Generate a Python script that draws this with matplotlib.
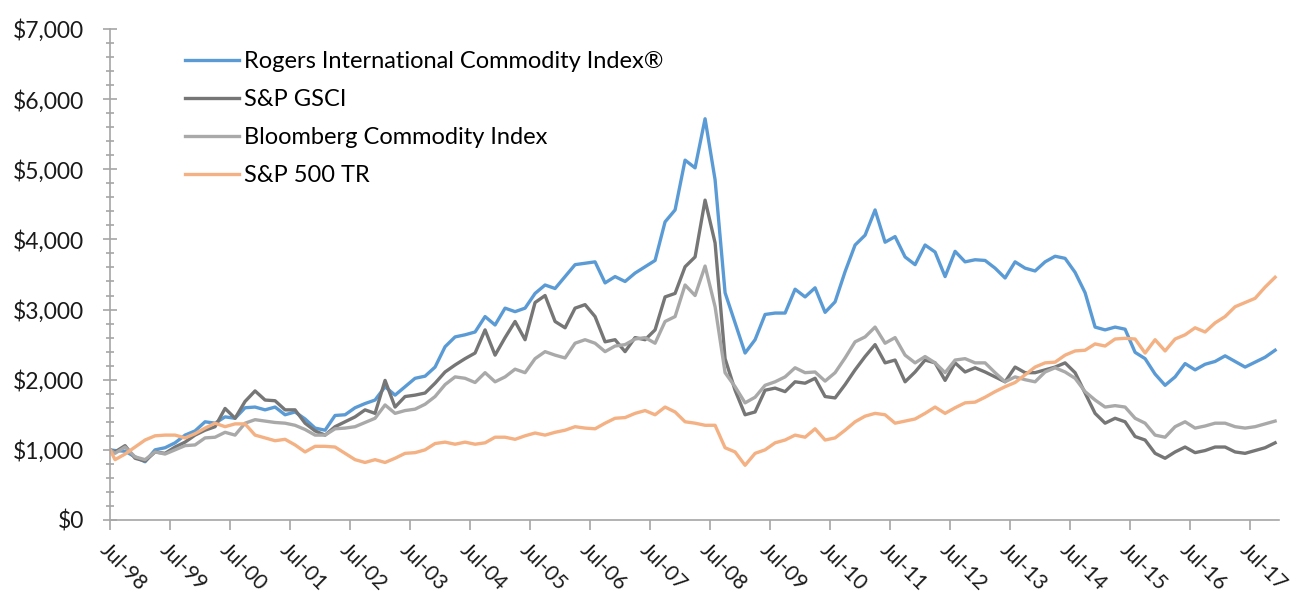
import matplotlib
matplotlib.use("Agg")
import matplotlib.pyplot as plt
from matplotlib.ticker import MultipleLocator, FuncFormatter

# month index counted from Jul-98 (readings at odd months)
months = [0] + list(range(1, 234, 2))

rogers = [1000, 990, 980, 900, 830, 1000, 1030, 1100, 1210, 1270, 1400, 1380, 1470,
          1450, 1600, 1610, 1570, 1610, 1500, 1540, 1440, 1310, 1280, 1490, 1500,
          1600, 1660, 1710, 1900, 1780, 1900, 2020, 2050, 2180, 2470, 2610, 2640,
          2680, 2900, 2780, 3020, 2970, 3020, 3230, 3350, 3300, 3470, 3640, 3660,
          3680, 3380, 3470, 3400, 3520, 3610, 3700, 4250, 4420, 5130, 5020, 5720,
          4850, 3240, 2810, 2380, 2570, 2930, 2950, 2950, 3290, 3180, 3310, 2960,
          3110, 3540, 3920, 4060, 4420, 3960, 4040, 3750, 3640, 3920, 3820, 3470,
          3830, 3680, 3710, 3700, 3590, 3450, 3680, 3590, 3550, 3680, 3760, 3730,
          3530, 3240, 2750, 2710, 2750, 2720, 2390, 2300, 2080, 1920, 2040, 2230,
          2140, 2220, 2260, 2340, 2260, 2180, 2250, 2320, 2420]

gsci = [1000, 970, 1060, 880, 840, 970, 950, 1040, 1110, 1210, 1280, 1330, 1590,
        1450, 1690, 1840, 1710, 1700, 1570, 1570, 1380, 1270, 1210, 1330, 1400,
        1470, 1570, 1520, 1990, 1610, 1760, 1780, 1810, 1950, 2110, 2210, 2300,
        2380, 2710, 2350, 2600, 2830, 2570, 3100, 3200, 2830, 2740, 3020, 3070,
        2900, 2540, 2570, 2400, 2600, 2570, 2710, 3180, 3230, 3610, 3750, 4560,
        3950, 2300, 1850, 1500, 1540, 1850, 1880, 1830, 1970, 1950, 2020, 1760,
        1740, 1930, 2140, 2330, 2500, 2240, 2280, 1970, 2110, 2280, 2240, 1990,
        2240, 2110, 2170, 2110, 2040, 1970, 2180, 2100, 2100, 2140, 2180, 2240,
        2100, 1810, 1520, 1380, 1450, 1400, 1190, 1140, 950, 880, 970, 1040,
        960, 990, 1040, 1040, 970, 950, 990, 1030, 1100]

bloomberg = [1000, 950, 1040, 900, 860, 970, 940, 1000, 1060, 1070, 1170, 1180, 1250,
             1210, 1380, 1430, 1410, 1390, 1380, 1350, 1290, 1210, 1210, 1300, 1310,
             1330, 1390, 1450, 1640, 1520, 1560, 1580, 1650, 1760, 1930, 2040, 2020,
             1960, 2100, 1970, 2040, 2150, 2100, 2300, 2400, 2350, 2310, 2520, 2570,
             2520, 2400, 2480, 2500, 2580, 2600, 2520, 2830, 2900, 3350, 3200, 3620,
             3040, 2100, 1900, 1670, 1750, 1920, 1970, 2040, 2170, 2100, 2110, 1980,
             2100, 2310, 2540, 2610, 2750, 2520, 2600, 2350, 2240, 2330, 2240, 2100,
             2280, 2300, 2240, 2240, 2100, 1970, 2040, 2000, 1970, 2110, 2170, 2110,
             2020, 1830, 1710, 1610, 1630, 1610, 1450, 1380, 1210, 1180, 1330, 1400,
             1310, 1340, 1380, 1380, 1330, 1310, 1330, 1370, 1410]

sp500 = [1000, 860, 940, 1040, 1140, 1200, 1210, 1210, 1170, 1230, 1310, 1380, 1330,
         1370, 1370, 1210, 1170, 1130, 1150, 1070, 970, 1050, 1050, 1040, 950,
         860, 820, 860, 820, 880, 950, 960, 1000, 1090, 1110, 1080, 1110,
         1080, 1100, 1180, 1180, 1150, 1200, 1240, 1210, 1250, 1280, 1330, 1310,
         1300, 1380, 1450, 1460, 1520, 1560, 1500, 1610, 1540, 1400, 1380, 1350,
         1350, 1030, 970, 780, 950, 1000, 1100, 1140, 1210, 1180, 1300, 1140,
         1170, 1280, 1400, 1480, 1520, 1500, 1380, 1410, 1440, 1520, 1610, 1520,
         1600, 1670, 1680, 1750, 1830, 1900, 1960, 2070, 2180, 2240, 2250, 2350,
         2410, 2420, 2510, 2480, 2580, 2590, 2580, 2380, 2570, 2410, 2580, 2640,
         2740, 2680, 2810, 2900, 3040, 3100, 3160, 3320, 3460]

series_names = ["Rogers International Commodity Index®", "S&P GSCI",
                "Bloomberg Commodity Index", "S&P 500 TR"]
colors = ["#5b9bd5", "#767676", "#a9a9a9", "#f4b183"]

tick_months = list(range(0, 229, 12))
tick_labels = ["Jul-98", "Jul-99", "Jul-00", "Jul-01", "Jul-02", "Jul-03", "Jul-04",
               "Jul-05", "Jul-06", "Jul-07", "Jul-08", "Jul-09", "Jul-10", "Jul-11",
               "Jul-12", "Jul-13", "Jul-14", "Jul-15", "Jul-16", "Jul-17"]

plt.rcParams['font.family'] = ['Lato', 'DejaVu Sans']

fig = plt.figure(figsize=(13.04, 6.01), dpi=100)
ax = fig.add_axes([0.0844, 0.1348, 0.8965, 0.817])

for vals, name, c in zip([rogers, gsci, bloomberg, sp500], series_names, colors):
    ax.plot(months, vals, color=c, lw=2.4, label=name, solid_joinstyle='round')

ax.set_xlim(0, 233.8)
ax.set_ylim(0, 7000)

ax.yaxis.set_major_locator(MultipleLocator(1000))
ax.yaxis.set_minor_locator(MultipleLocator(200))
ax.yaxis.set_major_formatter(FuncFormatter(lambda v, p: "${:,.0f}".format(v)))
ax.tick_params(axis='y', which='both', direction='inout', color='#a6a6a6', width=1.2,
               labelsize=16.5, labelcolor='#1a1a1a')
ax.tick_params(axis='y', which='major', length=9.4, pad=14)
ax.tick_params(axis='y', which='minor', length=5.8)

ax.set_xticks(tick_months)
ax.set_xticklabels(tick_labels, rotation=-45, ha='left', rotation_mode='anchor')
ax.tick_params(axis='x', direction='out', length=7, color='#a6a6a6', width=1.2,
               labelsize=15, labelcolor='#1a1a1a', pad=7)

for s in ['top', 'right']:
    ax.spines[s].set_visible(False)
for s in ['left', 'bottom']:
    ax.spines[s].set_color('#a6a6a6')
    ax.spines[s].set_linewidth(1.2)

ax.legend(loc='upper left', bbox_to_anchor=(0.052, 0.984), frameon=False,
          fontsize=17, handlelength=2.3, handletextpad=0.2, labelspacing=0.72,
          borderaxespad=0.2)

fig.savefig("out.png", dpi=100)
